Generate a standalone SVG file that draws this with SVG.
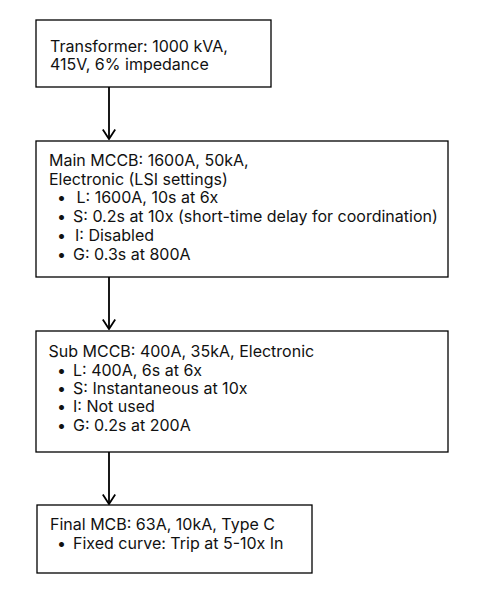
<svg xmlns="http://www.w3.org/2000/svg" width="486" height="610" viewBox="0 0 486 610">
<defs>
<marker id="arr" viewBox="0 0 12 14" refX="11" refY="7" markerWidth="12" markerHeight="14" markerUnits="userSpaceOnUse" orient="auto">
<path d="M1.5,0.8 L11,7 L1.5,13.2" fill="none" stroke="#000" stroke-width="1.8"/>
</marker>
</defs>
<style>
.box{fill:#fff;stroke:#000;stroke-width:1.3}
text{font-family:Inter,"Noto Sans","Liberation Sans",sans-serif;font-size:16px;fill:#111}
.edge{stroke:#000;stroke-width:1.8;fill:none}
</style>
<rect width="486" height="610" fill="#fff"/>
<g id="connectors">
<path class="edge" d="M109,87 V139" marker-end="url(#arr)"/>
<path class="edge" d="M109,277 V329" marker-end="url(#arr)"/>
<path class="edge" d="M109,452 V504" marker-end="url(#arr)"/>
</g>
<g id="transformer">
<rect class="box" x="36" y="20" width="235" height="67"/>
<text x="50" y="52">Transformer: 1000 kVA,</text>
<text x="50" y="70.3">415V, 6% impedance</text>
</g>
<g id="main-mccb">
<rect class="box" x="36" y="141" width="412" height="136"/>
<text x="49" y="165.7">Main MCCB: 1600A, 50kA,</text>
<text x="49" y="184.5">Electronic (LSI settings)</text>
<text x="57" y="203.3">•</text><text x="76.5" y="203.3">L: 1600A, 10s at 6x</text>
<text x="57" y="222.1">•</text><text x="73" y="222.1">S: 0.2s at 10x (short-time delay for coordination)</text>
<text x="57" y="240.9">•</text><text x="75" y="240.9">I: Disabled</text>
<text x="57" y="259.7">•</text><text x="73" y="259.7">G: 0.3s at 800A</text>
</g>
<g id="sub-mccb">
<rect class="box" x="36" y="331" width="412" height="121"/>
<text x="48.5" y="357.3">Sub MCCB: 400A, 35kA, Electronic</text>
<text x="57" y="375.6">•</text><text x="73" y="375.6">L: 400A, 6s at 6x</text>
<text x="57" y="393.9">•</text><text x="73" y="393.9">S: Instantaneous at 10x</text>
<text x="57" y="412.2">•</text><text x="73" y="412.2">I: Not used</text>
<text x="57" y="430.5">•</text><text x="73" y="430.5">G: 0.2s at 200A</text>
</g>
<g id="final-mcb">
<rect class="box" x="37" y="505" width="275" height="68"/>
<text x="50" y="530">Final MCB: 63A, 10kA, Type C</text>
<text x="57" y="549">•</text><text x="73" y="549">Fixed curve: Trip at 5-10x In</text>
</g>
</svg>
